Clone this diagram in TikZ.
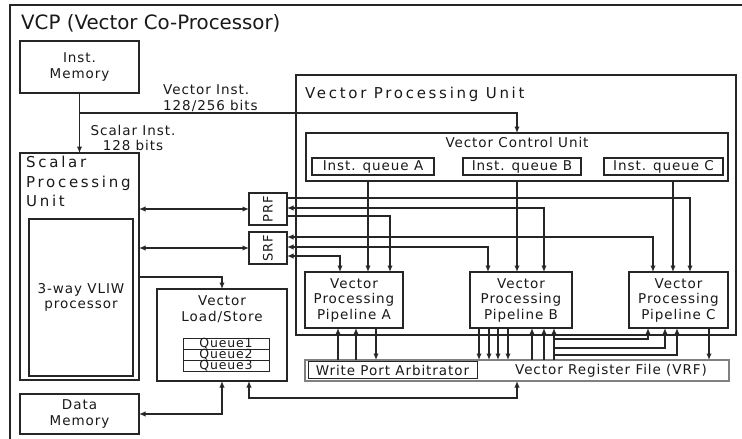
\documentclass[tikz,border=0pt]{standalone}
\usepackage{fontspec}
\setmainfont{DejaVu Sans}[LetterSpace=7]
\newfontfamily\bigfont{DejaVu Sans}[LetterSpace=18]
\newfontfamily\titlefont{DejaVu Sans}
\usetikzlibrary{arrows.meta}
\begin{document}
\begin{tikzpicture}[x=1pt,y=-1pt,
  every node/.style={text=black!90},
  box/.style={draw=black!85, line width=1.3pt, anchor=north west, inner sep=0pt, outer sep=0pt,
              align=center, font=\fontsize{13.5}{15.5}\selectfont},
  txt/.style={inner sep=0pt, align=center, font=\fontsize{13.5}{15.5}\selectfont},
  bigtxt/.style={inner sep=0pt, align=left, font=\bigfont\fontsize{15}{19.5}\selectfont},
  qtxt/.style={inner sep=0pt, font=\fontsize{12.5}{13}\selectfont},
  ln/.style={draw=black!85, line width=1.3pt},
  arr/.style={ln, -{Latex[length=6.5pt,width=5.5pt]}},
  arrb/.style={ln, {Latex[length=6.5pt,width=5.5pt]}-{Latex[length=6.5pt,width=5.5pt]}},
]
\useasboundingbox (0,0) rectangle (742,439);
% outer frame
\draw[ln] (10,439) -- (10,5) -- (742,5);
\node[anchor=west, inner sep=0pt, font=\titlefont\fontsize{19.8}{22}\selectfont] (title) at (21,23) {VCP (Vector Co-Processor)};

% left column
\node[box, minimum width=119pt, minimum height=52pt] (IM) at (20,41) {Inst.\\Memory};
\node[box, minimum width=119pt, minimum height=227pt] (SPU) at (20,153) {};
\node[bigtxt, anchor=north west] (SPUl) at (26,156) {Scalar\\Processing\\Unit};
\node[box, minimum width=104pt, minimum height=157pt] (VLIW) at (29,219) {3-way VLIW\\processor};
\node[box, minimum width=119pt, minimum height=40pt] (DM) at (20,394) {Data\\Memory};

% PRF / SRF
\node[box, minimum width=38pt, minimum height=32pt] (PRF) at (249,193) {};
\node[txt, rotate=90, font=\fontsize{13}{13}\selectfont] (PRFt) at (PRF.center) {PRF};
\node[box, minimum width=38pt, minimum height=32pt] (SRF) at (249,232) {};
\node[txt, rotate=90, font=\fontsize{13}{13}\selectfont] (SRFt) at (SRF.center) {SRF};

% Vector load/store
\node[box, minimum width=130pt, minimum height=92pt] (VLS) at (157,289) {};
\node[txt] (VLSt) at (222,309) {Vector\\Load/Store};
\node[box, line width=1pt, minimum width=86pt, minimum height=11pt] (Q1) at (183,338) {};
\node[box, line width=1pt, minimum width=86pt, minimum height=11pt] (Q2) at (183,349) {};
\node[box, line width=1pt, minimum width=86pt, minimum height=11pt] (Q3) at (183,360) {};
\node[qtxt] (Q1t) at (Q1.center) {Queue1};
\node[qtxt] (Q2t) at (Q2.center) {Queue2};
\node[qtxt] (Q3t) at (Q3.center) {Queue3};

% Vector processing unit
\node[box, minimum width=440pt, minimum height=260pt] (VPU) at (296,75) {};
\node[bigtxt, anchor=west] (VPUl) at (305,94) {Vector Processing Unit};
\node[box, minimum width=422pt, minimum height=48pt] (VCU) at (306,133) {};
\node[txt] (VCUl) at (517,142) {Vector Control Unit};
\node[box, minimum width=122pt, minimum height=17pt] (IQA) at (312,158) {Inst. queue A};
\node[box, minimum width=118pt, minimum height=17pt] (IQB) at (463,158) {Inst. queue B};
\node[box, minimum width=119pt, minimum height=17pt] (IQC) at (604,158) {Inst. queue C};

\node[box, minimum width=98pt, minimum height=56pt] (PA) at (305,272) {Vector\\Processing\\Pipeline A};
\node[box, minimum width=102pt, minimum height=56pt] (PB) at (470,272) {Vector\\Processing\\Pipeline B};
\node[box, minimum width=99pt, minimum height=56pt] (PC) at (629,272) {Vector\\Processing\\Pipeline C};

% VRF
\node[box, draw=black!50, line width=2pt, minimum width=424pt, minimum height=21pt] (VRF) at (305,360) {};
\node[box, line width=1pt, minimum width=169pt, minimum height=17pt] (WPA) at (308,361.5) {Write Port Arbitrator};
\node[txt] (VRFt) at (611,371) {Vector Register File (VRF)};

% instruction paths
\draw[arr] (IM.south) -- (SPU.north);
\coordinate (vj) at (79.5,113);
\draw[arr] (vj) -| (VCU.north);
\node[txt, anchor=west, align=left] (vlab) at (163,98) {Vector Inst.\\128/256 bits};
\node[txt] (slab) at (133,138) {Scalar Inst.\\128 bits};

% scalar unit links
\draw[arrb] (SPU.east |- PRF.west) -- (PRF.west);
\draw[arrb] (SPU.east |- SRF.west) -- (SRF.west);
\coordinate (yLS) at (0,277);
\draw[arr] (SPU.east |- yLS) -| (VLS.north);
\draw[arrb] (VLS.south) |- (DM.east);
\coordinate (yB) at (0,398);
\coordinate (xLS2) at (249,0);
\draw[arrb] (VLS.south -| xLS2) |- (yB -| VRF.south) -- (VRF.south);

% queue outputs
\coordinate (xQA) at (368,0);
\coordinate (xQB) at (517,0);
\coordinate (xQC) at (673,0);
\draw[arr] (VCU.south -| xQA) -- (PA.north -| xQA);
\draw[arr] (VCU.south -| xQB) -- (PB.north -| xQB);
\draw[arr] (VCU.south -| xQC) -- (PC.north -| xQC);

% PRF lines
\coordinate (yP1) at (0,198); \coordinate (xP1) at (690,0);
\coordinate (yP2) at (0,208); \coordinate (xP2) at (544,0);
\coordinate (yP3) at (0,216); \coordinate (xP3) at (390,0);
\draw[arr] (PRF.east |- yP1) -| (PC.north -| xP1);
\draw[arrb] (PRF.east |- yP2) -| (PB.north -| xP2);
\draw[arr] (PRF.east |- yP3) -| (PA.north -| xP3);
% SRF lines
\coordinate (yS1) at (0,237); \coordinate (xS1) at (653,0);
\coordinate (yS2) at (0,247); \coordinate (xS2) at (488,0);
\coordinate (yS3) at (0,256); \coordinate (xS3) at (340,0);
\draw[arrb] (SRF.east |- yS1) -| (PC.north -| xS1);
\draw[arrb] (SRF.east |- yS2) -| (PB.north -| xS2);
\draw[arrb] (SRF.east |- yS3) -| (PA.north -| xS3);

% pipeline <-> VRF
\foreach \x in {338,356} {\coordinate (t) at (\x,0); \draw[arr] (VRF.north -| t) -- (PA.south -| t);}
\coordinate (tA) at (376,0); \draw[arr] (PA.south -| tA) -- (VRF.north -| tA);
\foreach \x in {479,489,498,508} {\coordinate (t) at (\x,0); \draw[arr] (PB.south -| t) -- (VRF.north -| t);}
\foreach \x in {532,544,554} {\coordinate (t) at (\x,0); \draw[arr] (VRF.north -| t) -- (PB.south -| t);}
\foreach \x/\y in {648/339,665/348,677/355} {\coordinate (t) at (\x,\y); \coordinate (s) at (554,\y); \draw[arr] (s) -| (PC.south -| t);}
\coordinate (tC) at (709,0); \draw[arr] (PC.south -| tC) -- (VRF.north -| tC);
\end{tikzpicture}
\end{document}
